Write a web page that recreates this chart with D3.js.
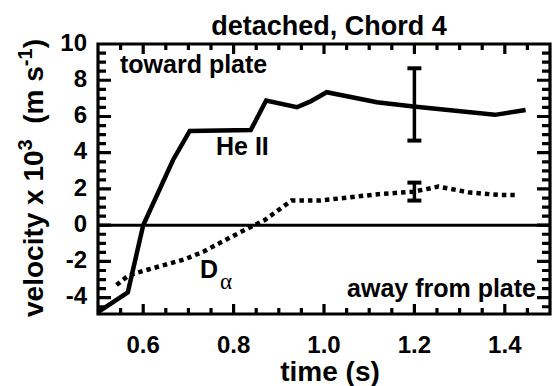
<!DOCTYPE html>
<html>
<head>
<meta charset="utf-8">
<script src="https://d3js.org/d3.v7.min.js"></script>
<style>
body { margin: 0; background: #fff; }
text { font-family: "Liberation Sans", Arial, sans-serif; font-weight: bold; fill: #000; }
</style>
</head>
<body>
<svg width="553" height="386"></svg>
<script>
// He II (solid) and D-alpha (dotted) velocities
var heTime = [0.5, 0.566, 0.6, 0.666, 0.703, 0.838, 0.872, 0.94, 0.969, 1.006, 1.117, 1.198, 1.378, 1.446];
var heVel = [-4.8, -3.7, 0.0, 3.6, 5.2, 5.25, 6.88, 6.51, 6.82, 7.34, 6.79, 6.55, 6.09, 6.36];
var daTime = [0.541, 0.566, 0.589, 0.692, 0.733, 0.796, 0.825, 0.869, 0.928, 0.991, 1.12, 1.198, 1.253, 1.323, 1.389, 1.422];
var daVel = [-3.3, -2.8, -2.6, -1.88, -1.46, -0.63, -0.26, 0.29, 1.36, 1.36, 1.71, 1.85, 2.13, 1.8, 1.67, 1.67];
// error bars at t = 1.2
var errTime = [1.2, 1.2];
var errLow = [4.67, 1.36];
var errHigh = [8.66, 2.35];
var xTicks = [0.6, 0.8, 1.0, 1.2, 1.4];
var yTicks = [-4, -2, 0, 2, 4, 6, 8, 10];

var svg = d3.select("svg"),
    margin = {top: 44, right: 3, bottom: 72, left: 98},
    width = +svg.attr("width") - margin.left - margin.right,
    height = +svg.attr("height") - margin.top - margin.bottom;

var x = d3.scaleLinear().domain([0.5, 1.5]).range([margin.left, margin.left + width]),
    y = d3.scaleLinear().domain([-4.9, 10]).range([margin.top + height, margin.top]);
var plotLeft = margin.left, plotRight = margin.left + width,
    plotTop = margin.top, plotBottom = margin.top + height;

// tick labels
svg.selectAll(".xlab")
    .data(xTicks)
    .enter().append("text")
    .attr("x", function (d) { return x(d); })
    .attr("y", plotBottom + 39)
    .attr("text-anchor", "middle")
    .style("font-size", "24px")
    .text(function (d) { return d.toFixed(1); });
svg.selectAll(".ylab")
    .data(yTicks)
    .enter().append("text")
    .attr("x", plotLeft - 11)
    .attr("y", function (d) { return y(d) - 2; })
    .attr("dy", "0.36em")
    .attr("text-anchor", "end")
    .style("font-size", "24px")
    .text(function (d) { return d; });

// zero line
svg.append("line")
    .attr("x1", plotLeft).attr("x2", plotRight)
    .attr("y1", y(0)).attr("y2", y(0))
    .attr("stroke", "#000").attr("stroke-width", 3);

var line = d3.line()
    .x(function (d) { return x(d[0]); })
    .y(function (d) { return y(d[1]); });

svg.append("path")
    .datum(d3.zip(heTime, heVel))
    .attr("d", line)
    .attr("fill", "none").attr("stroke", "#000")
    .attr("stroke-width", 4.5).attr("stroke-linejoin", "miter");

svg.append("path")
    .datum(d3.zip(daTime, daVel))
    .attr("d", line)
    .attr("fill", "none").attr("stroke", "#000")
    .attr("stroke-width", 4.5).attr("stroke-dasharray", "4.5,4");

// error bars
var eb = svg.selectAll(".err")
    .data(d3.zip(errTime, errLow, errHigh))
    .enter().append("g")
    .attr("stroke", "#000");
eb.append("line")
    .attr("x1", function (d) { return x(d[0]); }).attr("x2", function (d) { return x(d[0]); })
    .attr("y1", function (d) { return y(d[1]); }).attr("y2", function (d) { return y(d[2]); })
    .attr("stroke-width", 3.5);
eb.selectAll(".cap")
    .data(function (d) { return [[d[0], d[1]], [d[0], d[2]]]; })
    .enter().append("line")
    .attr("x1", function (d) { return x(d[0]) - 7; }).attr("x2", function (d) { return x(d[0]) + 7; })
    .attr("y1", function (d) { return y(d[1]); }).attr("y2", function (d) { return y(d[1]); })
    .attr("stroke-width", 4);

// frame and inward ticks (minor every 0.05 s and 0.5) as one path
function isMajor(v, step) {
    return Math.abs(Math.round(v / step) * step - v) < 1e-6;
}
var xMinor = x.ticks(20).filter(function (d) { return d > 0.5 && d < 1.5; }),
    yMinor = y.ticks(30).filter(function (d) { return d > -4.9 && d < 10; });

var fp = d3.path();
fp.moveTo(plotLeft, plotTop);
fp.lineTo(plotRight, plotTop);
fp.lineTo(plotRight, plotBottom);
fp.lineTo(plotLeft, plotBottom);
fp.closePath();
xMinor.forEach(function (d) {
    var len = isMajor(d, 0.2) ? 10 : 6;
    fp.moveTo(x(d), plotBottom);
    fp.lineTo(x(d), plotBottom - len);
    fp.moveTo(x(d), plotTop);
    fp.lineTo(x(d), plotTop + len);
});
yMinor.forEach(function (d) {
    var len = isMajor(d, 2) ? 13 : 8;
    fp.moveTo(plotLeft, y(d));
    fp.lineTo(plotLeft + len, y(d));
    fp.moveTo(plotRight, y(d));
    fp.lineTo(plotRight - len, y(d));
});
svg.append("path")
    .attr("d", fp.toString())
    .attr("fill", "none")
    .attr("stroke", "#000")
    .attr("stroke-width", 3.2)
    .attr("stroke-linecap", "butt");

// annotations
svg.append("text").attr("x", plotLeft + 22).attr("y", plotTop + 29).style("font-size", "25px").text("toward plate");
svg.append("text").attr("x", plotRight - 14).attr("y", plotTop + 253).attr("text-anchor", "end")
    .style("font-size", "25px").text("away from plate");
svg.append("text").attr("x", plotLeft + 118).attr("y", plotTop + 111).style("font-size", "25px").text("He II");
var da = svg.append("text").attr("x", plotLeft + 102).attr("y", plotTop + 234).style("font-size", "25px");
da.append("tspan").text("D");
da.append("tspan").attr("dy", 11).attr("dx", 2)
    .style("font-family", "'Liberation Serif', serif").style("font-weight", "normal")
    .style("font-size", "23px").text("\u03b1");

// title and axis titles
svg.append("text")
    .attr("x", 329).attr("y", 35)
    .attr("text-anchor", "middle")
    .style("font-size", "27px")
    .text("detached, Chord 4");

svg.append("text")
    .attr("x", 330).attr("y", 381)
    .attr("text-anchor", "middle")
    .style("font-size", "28px")
    .text("time (s)");

var yl = svg.append("text")
    .attr("transform", "translate(43,178) rotate(-90)")
    .attr("text-anchor", "middle")
    .style("font-size", "28px");
yl.append("tspan").text("velocity x 10");
yl.append("tspan").attr("dy", -11).style("font-size", "20px").text("3");
yl.append("tspan").attr("dy", 11).text("\u00a0 (m s");
yl.append("tspan").attr("dy", -11).style("font-size", "20px").text("-1");
yl.append("tspan").attr("dy", 11).text(")");
</script>
</body>
</html>
